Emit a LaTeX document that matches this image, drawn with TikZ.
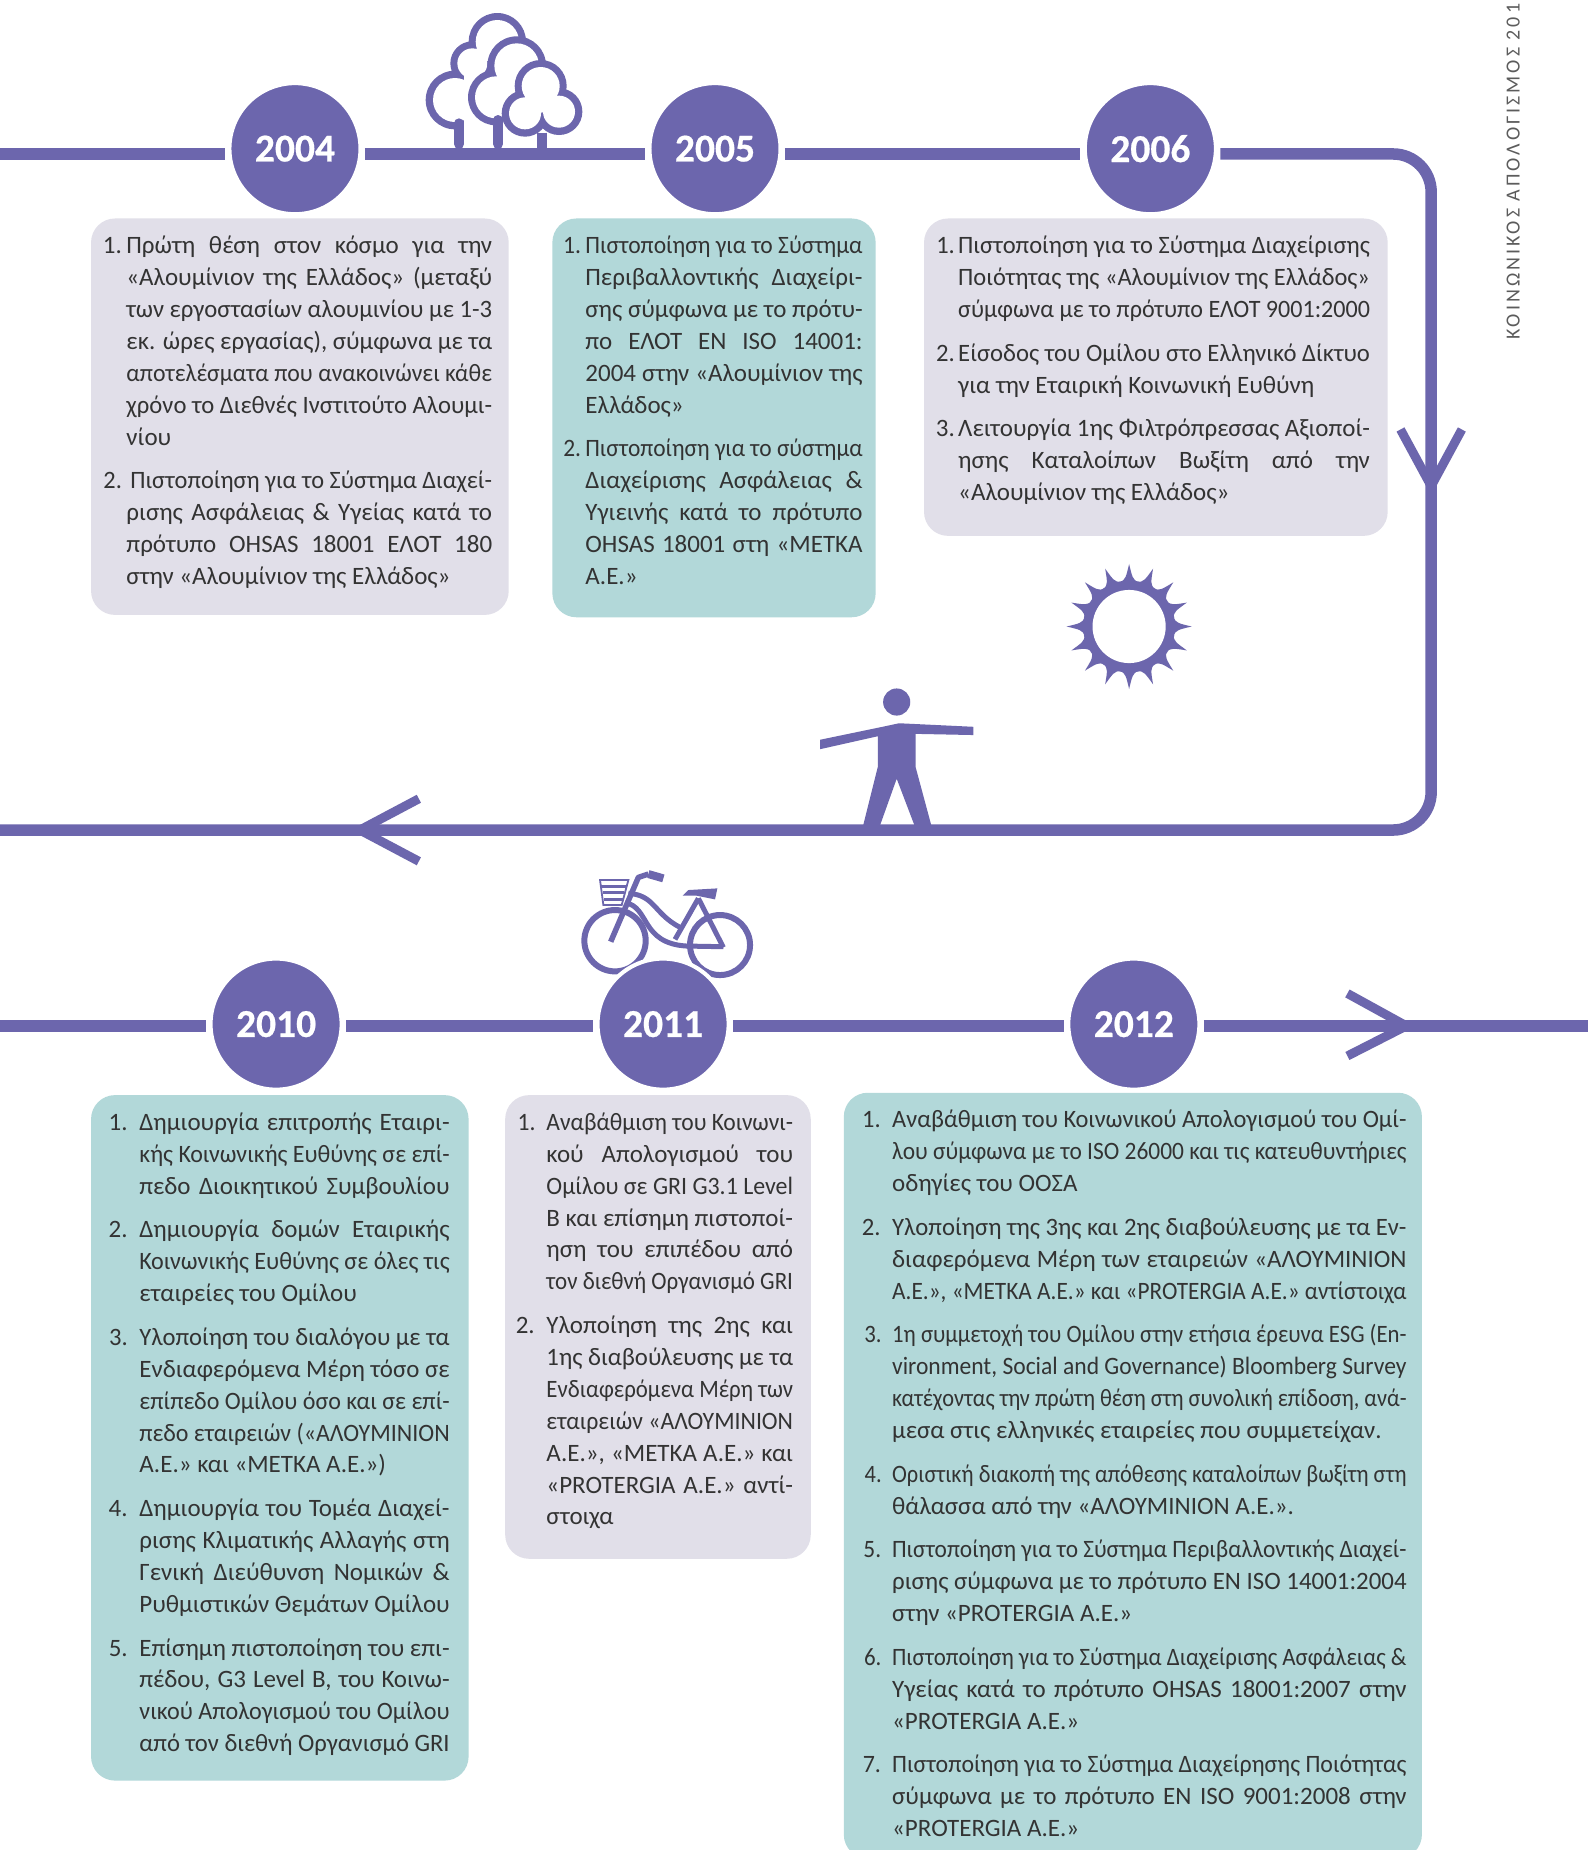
\documentclass[tikz,border=0pt]{standalone}
\usepackage{fontspec}
\usepackage{graphicx}
\setmainfont{Carlito}
\newfontfamily\spinefont[LetterSpace=15]{Carlito}
\newfontfamily\yearfont[FakeBold=0.5]{Carlito Bold}
\definecolor{tp}{HTML}{6C66AD}
\definecolor{pg}{HTML}{E1DFE9}
\definecolor{pt}{HTML}{B2D8D9}
\definecolor{ink}{HTML}{333333}
\newdimen\W \newdimen\N \newbox\lb
\newcommand\jl[1]{\setbox\lb\hbox{\spaceskip=\fontdimen2\font\relax #1}%
  \ifdim\wd\lb>\W \hbox to\W{\resizebox{\W}{\height}{\box\lb}}%
  \else\hbox to\W{\spaceskip=\fontdimen2\font plus 1fil\relax #1}\fi}
\newcommand\el[1]{\hbox{#1}}
\newcommand\nm[1]{\llap{\hbox to\N{#1\hss}}}
\newcommand\ig{\vskip 11.8pt}
% \tb name x1 x2 numx baseline content
\newcommand\tb[6]{\node[tblock] (#1) at (#2,#5) {\pgfmathsetlength\W{(#3-#2)*1.1798pt}\pgfmathsetlength\N{(#2-#4)*1.1798pt}%
  \vtop{\hsize=\W\baselineskip=31.9pt\lineskiplimit=-20pt #6}};}
\tikzset{
  tl/.style={draw=tp,line width=11.5pt},
  tip/.style={draw=tp,line width=9pt,miter limit=20},
  yr/.style={circle,fill=tp,draw=white,line width=4pt,minimum size=131pt,inner sep=0pt,outer sep=4.5pt,text=white,font=\yearfont\fontsize{39.5}{40}\selectfont},
  panel/.style={anchor=north west,rounded corners=24pt,inner sep=0pt},
  tblock/.style={anchor=base west,inner sep=0pt,text=ink,font=\fontsize{25}{31.9}\selectfont},
}
\begin{document}
\begin{tikzpicture}[x=1.1798pt,y=-1.1798pt]
\useasboundingbox (0,0) rectangle (1346,1568);
\fill[white] (0,0) rectangle (1346,1568);

% trees
\begin{scope}[x=0.33333pt,y=-0.33333pt,shift={(410pt,0pt)}]
  \fill[tp] (262,125) circle (86) (187,190) circle (66) (135,300) circle (88);
  \fill[white] (262,125) circle (65) (187,190) circle (45) (135,300) circle (66);
  \fill[white] (162,215) rectangle (330,425);
  \draw[tp,line width=10pt,line cap=round] (147,370) -- (147,432);
  \fill[tp] (320,197) circle (88) (258,292) circle (84);
  \fill[white] (320,197) circle (67) (258,292) circle (63);
  \fill[white] (279,230) rectangle (400,425);
  \draw[tp,line width=10pt,line cap=round] (264,360) -- (264,432);
  \fill[tp] (392,258) circle (78) (345,340) circle (70) (447,335) circle (70);
  \fill[white] (392,258) circle (57) (345,340) circle (48) (447,335) circle (48);
  \fill[white] (392,258) -- (345,340) -- (447,335) -- cycle;
  \draw[tp,line width=10pt] (397,398) -- (397,450);
\end{scope}

% bicycle
\begin{scope}[x=0.33333pt,y=-0.33333pt,shift={(540pt,-850pt)}]
  \draw[tp,line width=6pt] (225,272) circle (92) (540,285) circle (90);
  \draw[tp,line width=5.5pt,line join=round] (212,275) -- (295,82) -- (325,72);
  \draw[tp,line width=8pt] (325,72) -- (370,85);
  \draw[tp,line width=1.8pt] (180,90) -- (265,90) -- (245,165) -- (190,165) -- cycle;
  \draw[tp,line width=3pt] (184,108) -- (258,108) (188,127) -- (253,127) (191,147) -- (248,147);
  \draw[tp,line width=5pt] (265,130) .. controls (345,135) and (340,190) .. (420,232);
  \draw[tp,line width=5pt] (255,158) .. controls (330,170) and (300,280) .. (440,288) -- (550,290);
  \draw[tp,line width=5pt] (475,145) -- (405,268);
  \draw[tp,line width=5pt,line join=miter] (475,145) -- (550,292);
  \fill[tp] (428,137) -- (445,120) -- (532,115) -- (525,148) -- (470,137) -- cycle;
\end{scope}

% sun
\begin{scope}[shift={(957,531)}]
  \foreach \a in {0,22.5,...,337.5}
    \fill[tp] ({\a-11.25}:38) .. controls ({\a-4}:41) .. (\a:53) .. controls ({\a+4}:41) .. ({\a+11.25}:38) -- cycle;
  \fill[tp] (0,0) circle (39);
  \fill[white] (0,0) circle (31);
\end{scope}

% person
\fill[tp] (760,595) circle (11.5);
\fill[tp] (695,627) -- (748,616) -- (762,613) -- (825,616) -- (825,623) -- (776,622) -- (776,650) -- (790,702) -- (776,702) -- (760,660) -- (745,702) -- (731,702) -- (744,650) -- (744,624) -- (695,635) -- cycle;

% year nodes
\node[yr] (c2004) at (250,126) {2004};
\node[yr] (c2005) at (606,126) {2005};
\node[yr] (c2006) at (975,126) {2006};
\node[yr] (c2010) at (234,868) {2010};
\node[yr] (c2011) at (562,868) {2011};
\node[yr] (c2012) at (961,868) {2012};

% timeline coordinates
\coordinate (la) at (0,130.5);
\coordinate (lb) at (1213,130.5);
\coordinate (lc) at (1213,703.5);
\coordinate (ld) at (0,703.5);
\coordinate (le) at (0,869.5);
\coordinate (lf) at (1346,869.5);
\coordinate (av) at (1213,412);
\coordinate (av1) at (1187,364);
\coordinate (av2) at (1239,364);
\coordinate (al) at (305,703.5);
\coordinate (al1) at (355,677);
\coordinate (al2) at (355,730);
\coordinate (ar) at (1192,869.5);
\coordinate (ar1) at (1142,842);
\coordinate (ar2) at (1142,895);

\draw[tl] (la) -- (c2004.west |- la);
\draw[tl] (c2004.east |- la) -- (c2005.west |- la);
\draw[tl] (c2005.east |- la) -- (c2006.west |- la);
\draw[tl,rounded corners=38pt] (c2006.east |- la) -- (lb) -- (lc) -- (ld);
\draw[tl] (le) -- (c2010.west |- le);
\draw[tl] (c2010.east |- le) -- (c2011.west |- le);
\draw[tl] (c2011.east |- le) -- (c2012.west |- le);
\draw[tl] (c2012.east |- le) -- (lf);
\draw[tip] (av1) -- (av) -- (av2);
\draw[tip] (al1) -- (al) -- (al2);
\draw[tip] (ar1) -- (ar) -- (ar2);

% panels
\node[panel,fill=pg,minimum width={(431-77)*1.1798pt},minimum height={(521-185)*1.1798pt}] (p2004) at (77,185) {};
\node[panel,fill=pt,minimum width={(742-468)*1.1798pt},minimum height={(523-185)*1.1798pt}] (p2005) at (468,185) {};
\node[panel,fill=pg,minimum width={(1176-783)*1.1798pt},minimum height={(454-185)*1.1798pt}] (p2006) at (783,185) {};
\node[panel,fill=pt,minimum width={(397-77)*1.1798pt},minimum height={(1509-928)*1.1798pt}] (p2010) at (77,928) {};
\node[panel,fill=pg,minimum width={(687-428)*1.1798pt},minimum height={(1321-928)*1.1798pt}] (p2011) at (428,928) {};
\node[panel,fill=pt,minimum width={(1205-715)*1.1798pt},minimum height={(1575-926)*1.1798pt}] (p2012) at (715,926) {};

\tb{t2004}{107}{417}{87}{215}{%
\jl{\nm{1.}Πρώτη θέση στον κόσμο για την}
\jl{«Αλουμίνιον της Ελλάδος» (μεταξύ}
\jl{των εργοστασίων αλουμινίου με 1-3}
\jl{εκ. ώρες εργασίας), σύμφωνα με τα}
\jl{αποτελέσματα που ανακοινώνει κάθε}
\jl{χρόνο το Διεθνές Ινστιτούτο Αλουμι-}
\el{νίου}\ig
\jl{\nm{2.}\kern4pt Πιστοποίηση για το Σύστημα Διαχεί-}
\jl{ρισης Ασφάλειας \& Υγείας κατά το}
\jl{πρότυπο OHSAS 18001 ΕΛΟΤ 180}
\el{στην «Αλουμίνιον της Ελλάδος»}}

\tb{t2005}{496}{731}{476}{215}{%
\jl{\nm{1.}Πιστοποίηση για το Σύστημα}
\jl{Περιβαλλοντικής Διαχείρι-}
\jl{σης σύμφωνα με το πρότυ-}
\jl{πο ΕΛΟΤ ΕΝ ISO 14001:}
\jl{2004 στην «Αλουμίνιον της}
\el{Ελλάδος»}\ig
\jl{\nm{2.}Πιστοποίηση για το σύστημα}
\jl{Διαχείρισης Ασφάλειας \&}
\jl{Υγιεινής κατά το πρότυπο}
\jl{OHSAS 18001 στη «ΜΕΤΚΑ}
\el{Α.Ε.»}}

\tb{t2006}{812}{1161}{793}{215}{%
\jl{\nm{1.}Πιστοποίηση για το Σύστημα Διαχείρισης}
\jl{Ποιότητας της «Αλουμίνιον της Ελλάδος»}
\jl{σύμφωνα με το πρότυπο ΕΛΟΤ 9001:2000}\ig
\jl{\nm{2.}Είσοδος του Ομίλου στο Ελληνικό Δίκτυο}
\el{για την Εταιρική Κοινωνική Ευθύνη}\ig
\jl{\nm{3.}Λειτουργία 1ης Φιλτρόπρεσσας Αξιοποί-}
\jl{ησης Καταλοίπων Βωξίτη από την}
\el{«Αλουμίνιον της Ελλάδος»}}

\tb{t2010}{118}{381}{92}{958}{%
\jl{\nm{1.}Δημιουργία επιτροπής Εταιρι-}
\jl{κής Κοινωνικής Ευθύνης σε επί-}
\jl{πεδο Διοικητικού Συμβουλίου}\ig
\jl{\nm{2.}Δημιουργία δομών Εταιρικής}
\jl{Κοινωνικής Ευθύνης σε όλες τις}
\el{εταιρείες του Ομίλου}\ig
\jl{\nm{3.}Υλοποίηση του διαλόγου με τα}
\jl{Ενδιαφερόμενα Μέρη τόσο σε}
\jl{επίπεδο Ομίλου όσο και σε επί-}
\jl{πεδο εταιρειών («ΑΛΟΥΜΙΝΙΟΝ}
\el{Α.Ε.» και «ΜΕΤΚΑ Α.Ε.»)}\ig
\jl{\nm{4.}Δημιουργία του Τομέα Διαχεί-}
\jl{ρισης Κλιματικής Αλλαγής στη}
\jl{Γενική Διεύθυνση Νομικών \&}
\jl{Ρυθμιστικών Θεμάτων Ομίλου}\ig
\jl{\nm{5.}Επίσημη πιστοποίηση του επι-}
\jl{πέδου, G3 Level B, του Κοινω-}
\jl{νικού Απολογισμού του Ομίλου}
\jl{από τον διεθνή Οργανισμό GRI}}

\tb{t2011}{463}{672}{437}{958}{%
\jl{\nm{1.}Αναβάθμιση του Κοινωνι-}
\jl{κού Απολογισμού του}
\jl{Ομίλου σε GRI G3.1 Level}
\jl{B και επίσημη πιστοποί-}
\jl{ηση του επιπέδου από}
\jl{τον διεθνή Οργανισμό GRI}\ig
\jl{\nm{2.}Υλοποίηση της 2ης και}
\jl{1ης διαβούλευσης με τα}
\jl{Ενδιαφερόμενα Μέρη των}
\jl{εταιρειών «ΑΛΟΥΜΙΝΙΟΝ}
\jl{Α.Ε.», «ΜΕΤΚΑ Α.Ε.» και}
\jl{«PROTERGIA Α.Ε.» αντί-}
\el{στοιχα}}

\tb{t2012}{756}{1192}{730}{956}{%
\jl{\nm{1.}Αναβάθμιση του Κοινωνικού Απολογισμού του Ομί-}
\jl{λου σύμφωνα με το ISO 26000 και τις κατευθυντήριες}
\el{οδηγίες του ΟΟΣΑ}\ig
\jl{\nm{2.}Υλοποίηση της 3ης  και 2ης διαβούλευσης με τα Εν-}
\jl{διαφερόμενα Μέρη των εταιρειών «ΑΛΟΥΜΙΝΙΟΝ}
\jl{Α.Ε.», «ΜΕΤΚΑ Α.Ε.» και «PROTERGIA Α.Ε.» αντίστοιχα}\ig
\jl{\nm{3.}1η συμμετοχή του Ομίλου στην ετήσια έρευνα ESG (En-}
\jl{vironment, Social and Governance) Bloomberg Survey}
\jl{κατέχοντας την πρώτη θέση στη συνολική επίδοση, ανά-}
\el{μεσα στις ελληνικές εταιρείες που συμμετείχαν.}\ig
\jl{\nm{4.}Οριστική διακοπή της απόθεσης καταλοίπων βωξίτη στη}
\el{θάλασσα από την «ΑΛΟΥΜΙΝΙΟΝ Α.Ε.».}\ig
\jl{\nm{5.}Πιστοποίηση για το Σύστημα Περιβαλλοντικής Διαχεί-}
\jl{ρισης σύμφωνα με το πρότυπο EN ISO 14001:2004}
\el{στην «PROTERGIA Α.Ε.»}\ig
\jl{\nm{6.}Πιστοποίηση για το Σύστημα Διαχείρισης Ασφάλειας \&}
\jl{Υγείας κατά το πρότυπο OHSAS 18001:2007 στην}
\el{«PROTERGIA Α.Ε.»}\ig
\jl{\nm{7.}Πιστοποίηση για το Σύστημα Διαχείρησης Ποιότητας}
\jl{σύμφωνα με το πρότυπο EN ISO 9001:2008 στην}
\el{«PROTERGIA Α.Ε.»}}

% spine
\node[anchor=west,rotate=90,inner sep=0pt,text=ink!80,font=\spinefont\fontsize{20}{20}\selectfont] (spine) at (1282.5,288) {ΚΟΙΝΩΝΙΚΟΣ ΑΠΟΛΟΓΙΣΜΟΣ 201};
\end{tikzpicture}
\end{document}
